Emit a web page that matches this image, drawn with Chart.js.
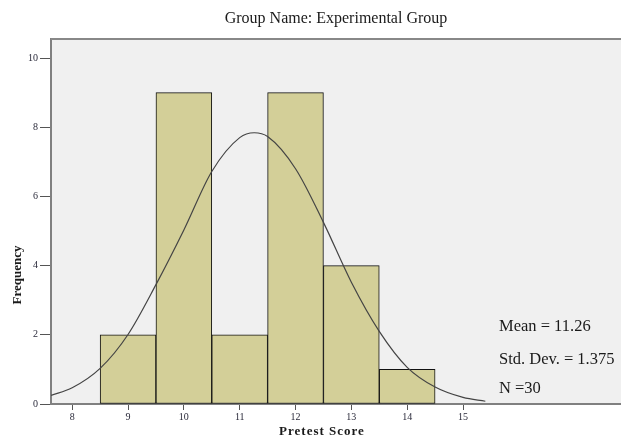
<!DOCTYPE html>
<html>
<head>
<meta charset="utf-8">
<script src="https://cdn.jsdelivr.net/npm/chart.js@4.4.1/dist/chart.umd.min.js"></script>
<style>
  html, body { margin: 0; padding: 0; background: #fff; }
  #wrap { position: relative; width: 621px; height: 436px; }
</style>
</head>
<body>
<div id="wrap"><canvas id="histChart"></canvas></div>
<script>
// histogram bins (score) and frequencies
const binCenters = [9, 10, 11, 12, 13, 14];
const frequencies = [2, 9, 2, 9, 4, 1];

// normal curve
const curveX = [7.62, 8, 8.5, 9, 9.5, 10, 10.5, 11, 11.26, 11.5, 12, 12.5, 13, 13.5, 14, 14.5, 15, 15.4];
const curveY = [0.25, 0.47, 1.03, 2.01, 3.45, 5.03, 6.72, 7.70, 7.84, 7.73, 6.80, 5.25, 3.52, 2.10, 1.06, 0.49, 0.19, 0.08];

const xTicks = [8, 9, 10, 11, 12, 13, 14, 15];
const yTicks = [0, 2, 4, 6, 8, 10];

const statLines = ['Mean = 11.26', 'Std. Dev. = 1.375', 'N =30'];

const SERIF = "'Liberation Serif', 'Times New Roman', serif";

const spssFrame = {
  id: 'spssFrame',
  beforeDraw(chart) {
    const { ctx, chartArea: a } = chart;
    ctx.save();
    ctx.fillStyle = '#f0f0f0';
    ctx.fillRect(a.left, a.top, a.right - a.left, a.bottom - a.top);
    ctx.restore();
  },
  afterDraw(chart) {
    const { ctx, chartArea: a } = chart;
    ctx.save();
    // top frame line
    ctx.strokeStyle = '#888';
    ctx.lineWidth = 2;
    ctx.beginPath();
    ctx.moveTo(a.left, a.top);
    ctx.lineTo(a.right, a.top);
    ctx.stroke();

    // stats box
    ctx.fillStyle = '#1a1a1a';
    ctx.font = '16.5px ' + SERIF;
    ctx.textAlign = 'left';
    ctx.textBaseline = 'alphabetic';
    const ys = [331, 364, 393];
    statLines.forEach((t, i) => ctx.fillText(t, 499, ys[i]));

    // axis titles
    ctx.font = 'bold 13px ' + SERIF;
    ctx.textAlign = 'center';
    ctx.letterSpacing = '1px';
    ctx.fillText('Pretest Score', 322, 435);
    ctx.letterSpacing = '0px';
    ctx.translate(18, 275);
    ctx.rotate(-Math.PI / 2);
    ctx.textBaseline = 'middle';
    ctx.fillText('Frequency', 0, 0);
    ctx.restore();
  }
};

new Chart(document.getElementById('histChart'), {
  type: 'bar',
  data: {
    datasets: [
      {
        type: 'line',
        data: curveX.map((x, i) => ({ x, y: curveY[i] })),
        borderColor: '#444',
        borderWidth: 1.2,
        pointRadius: 0,
        cubicInterpolationMode: 'monotone',
        fill: false,
        order: 0
      },
      {
        type: 'bar',
        data: binCenters.map((x, i) => ({ x, y: frequencies[i] })),
        backgroundColor: '#d3cf98',
        borderColor: '#111',
        borderWidth: 1,
        borderSkipped: false,
        barPercentage: 1,
        categoryPercentage: 1,
        order: 1
      }
    ]
  },
  options: {
    responsive: true,
    maintainAspectRatio: false,
    animation: false,
    layout: { padding: 0 },
    plugins: {
      legend: { display: false },
      tooltip: { enabled: false },
      title: {
        display: true,
        text: 'Group Name: Experimental Group',
        fullSize: false,
        color: '#1a1a1a',
        font: { family: SERIF, size: 16, weight: 'normal' },
        padding: { top: 9, bottom: 10.8 }
      }
    },
    scales: {
      x: {
        type: 'linear',
        min: 7.62,
        max: 17.83,
        offset: false,
        afterBuildTicks: s => { s.ticks = xTicks.map(v => ({ value: v })); },
        afterFit: s => { s.height = 32; },
        ticks: { color: '#2a2a3a', font: { family: SERIF, size: 10 }, padding: 1, maxRotation: 0 },
        grid: { offset: false, drawOnChartArea: false, drawTicks: true, tickLength: 6, color: '#555' },
        border: { display: true, color: '#808080', width: 2 }
      },
      y: {
        min: 0,
        max: 10.55,
        afterBuildTicks: s => { s.ticks = yTicks.map(v => ({ value: v })); },
        afterFit: s => { s.width = 51; },
        ticks: { color: '#2a2a3a', font: { family: SERIF, size: 10 }, padding: 2 },
        grid: { drawOnChartArea: false, drawTicks: true, tickLength: 11, color: '#555' },
        border: { display: true, color: '#808080', width: 2 }
      }
    }
  },
  plugins: [spssFrame]
});
</script>
</body>
</html>
